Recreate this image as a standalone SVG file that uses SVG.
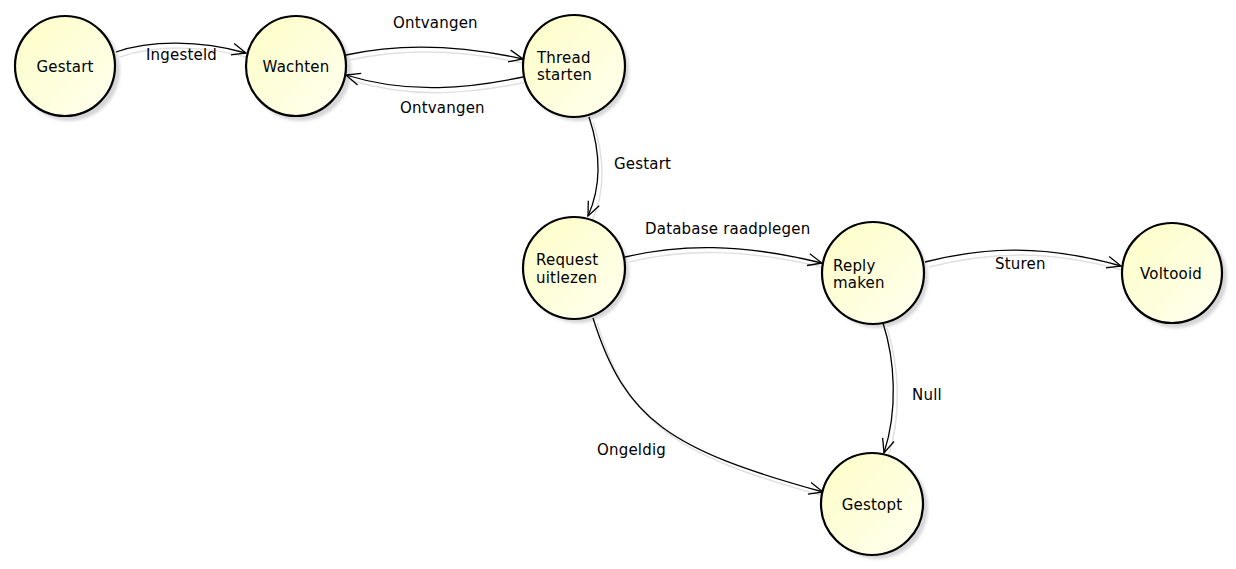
<svg xmlns="http://www.w3.org/2000/svg" width="1236" height="569" viewBox="0 0 1236 569">
<style>
.bg{fill:#ffffff}
.edge{fill:none;stroke:#000;stroke-width:1.3;marker-end:url(#arr)}
.eshadow{fill:none;stroke:#e0e0e0;stroke-width:1.5}
.node{fill:url(#ng);stroke:#000;stroke-width:2.2}
.nshadow{fill:#d6d6d6;filter:url(#blur)}
text{font-family:"DejaVu Sans","Liberation Sans",sans-serif;font-size:15px;fill:#000;letter-spacing:0.2px}
.c{text-anchor:middle}
</style>
<defs>
<linearGradient id="ng" x1="0" y1="0" x2="1" y2="1">
<stop offset="0" stop-color="#fdfdc6"/>
<stop offset="1" stop-color="#fffff0"/>
</linearGradient>
<filter id="blur" x="-20%" y="-20%" width="140%" height="140%"><feGaussianBlur stdDeviation="1.5"/></filter>
<marker id="arr" viewBox="0 0 16 14" markerWidth="16" markerHeight="14" refX="15" refY="7" orient="auto" markerUnits="userSpaceOnUse">
<path d="M1,1 L15,7 L1,13" fill="none" stroke="#000" stroke-width="1.3"/>
</marker>
</defs>
<rect class="bg" x="0" y="0" width="1236" height="569"/>
<g id="edge-shadows" transform="translate(4,5)">
<path class="eshadow" d="M116,52 C150,40 200,40 246,53"/>
<path class="eshadow" d="M346,55 C400,43 460,45 523,59"/>
<path class="eshadow" d="M523,77 C470,88 410,95 346,75"/>
<path class="eshadow" d="M589,117 C600,150 602,185 588,216"/>
<path class="eshadow" d="M625,257 C680,244 740,243 822,263"/>
<path class="eshadow" d="M925,262 C980,248 1040,243 1121,266"/>
<path class="eshadow" d="M883,323 C895,360 898,410 884,453"/>
<path class="eshadow" d="M593,318 C625,420 670,450 823,492"/>
</g>
<g id="shadows">
<circle class="nshadow" cx="69" cy="70" r="51"/>
<circle class="nshadow" cx="300" cy="70" r="51"/>
<circle class="nshadow" cx="578" cy="70" r="51"/>
<circle class="nshadow" cx="578" cy="272" r="51"/>
<circle class="nshadow" cx="877" cy="277" r="51"/>
<circle class="nshadow" cx="1176" cy="277" r="51"/>
<circle class="nshadow" cx="877" cy="508" r="51"/>
</g>
<g id="connectors">
<path class="edge" d="M116,52 C150,40 200,40 246,53"/>
<path class="edge" d="M346,55 C400,43 460,45 523,59"/>
<path class="edge" d="M523,77 C470,88 410,95 346,75"/>
<path class="edge" d="M589,117 C600,150 602,185 588,216"/>
<path class="edge" d="M625,257 C680,244 740,243 822,263"/>
<path class="edge" d="M925,262 C980,248 1040,243 1121,266"/>
<path class="edge" d="M883,323 C895,360 898,410 884,453"/>
<path class="edge" d="M593,318 C625,420 670,450 823,492"/>
<text x="146" y="60">Ingesteld</text>
<text x="393" y="28">Ontvangen</text>
<text x="400" y="113">Ontvangen</text>
<text x="614" y="169">Gestart</text>
<text x="645" y="234">Database raadplegen</text>
<text x="995" y="269">Sturen</text>
<text x="912" y="400">Null</text>
<text x="597" y="455">Ongeldig</text>
</g>
<g id="n-gestart"><circle class="node" cx="65" cy="66" r="50"/><text class="c" x="65" y="72">Gestart</text></g>
<g id="n-wachten"><circle class="node" cx="296" cy="66" r="50"/><text class="c" x="296" y="72">Wachten</text></g>
<g id="n-thread"><circle class="node" cx="574" cy="66" r="51"/><text x="537" y="63">Thread</text><text x="537" y="80">starten</text></g>
<g id="n-request"><circle class="node" cx="574" cy="268" r="51"/><text x="536" y="265">Request</text><text x="536" y="283">uitlezen</text></g>
<g id="n-reply"><circle class="node" cx="873" cy="273" r="51"/><text x="833" y="271">Reply</text><text x="833" y="288">maken</text></g>
<g id="n-voltooid"><circle class="node" cx="1172" cy="273" r="50"/><text class="c" x="1171" y="279">Voltooid</text></g>
<g id="n-gestopt"><circle class="node" cx="872" cy="504" r="51"/><text class="c" x="872" y="510">Gestopt</text></g>
</svg>
